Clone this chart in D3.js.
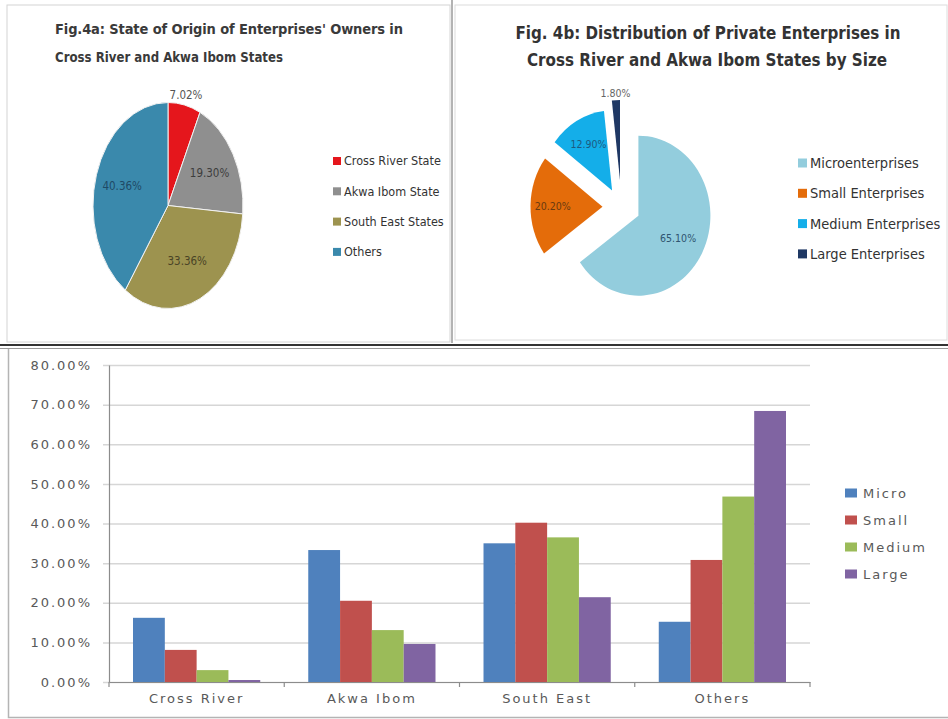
<!DOCTYPE html>
<html>
<head>
<meta charset="utf-8">
<script src="https://cdn.jsdelivr.net/npm/d3@7/dist/d3.min.js"></script>
<style>
  html, body { margin: 0; padding: 0; background: #fff; }
  svg { display: block; }
  .narrow { font-family: "Liberation Sans Narrow", "DejaVu Sans Condensed", "Roboto Condensed", sans-serif; }
  .wide { font-family: "DejaVu Sans", Verdana, sans-serif; letter-spacing: 2px; }
</style>
</head>
<body>
<svg id="chart" width="948" height="719"></svg>
<script>
// Fig. 4a: state of origin of enterprise owners (percent)
const originLabels = ["Cross River State", "Akwa Ibom State", "South East States", "Others"];
const originShares = [7.02, 19.30, 33.36, 40.36];

// Fig. 4b: private enterprises by size (percent)
const sizeLabels = ["Microenterprises", "Small Enterprises", "Medium Enterprises", "Large Enterprises"];
const sizeShares = [65.10, 20.20, 12.90, 1.80];

// Grouped bars: share of each size class by owners' origin (percent)
const regions = ["Cross River", "Akwa Ibom", "South East", "Others"];
const sizeSeries = ["Micro", "Small", "Medium", "Large"];
const microValues = [16.2, 33.3, 35.0, 15.2];
const smallValues = [8.1, 20.5, 40.2, 30.8];
const mediumValues = [3.0, 13.1, 36.5, 46.8];
const largeValues = [0.5, 9.6, 21.4, 68.4];
const yTicks = [0, 10, 20, 30, 40, 50, 60, 70, 80];

const svg = d3.select("#chart");

// ---- panel frames ----
svg.append("rect").attr("x", 7).attr("y", 5).attr("width", 443).attr("height", 337)
  .attr("fill", "none").attr("stroke", "#d4d4d4").attr("stroke-width", 1);
svg.append("rect").attr("x", 455).attr("y", 5).attr("width", 492).attr("height", 335)
  .attr("fill", "none").attr("stroke", "#dcdcdc").attr("stroke-width", 1);
svg.append("line").attr("x1", 452).attr("x2", 452).attr("y1", 0).attr("y2", 343)
  .attr("stroke", "#9a9a9a").attr("stroke-width", 1.5);
svg.append("line").attr("x1", 0).attr("x2", 948).attr("y1", 345).attr("y2", 345)
  .attr("stroke", "#333").attr("stroke-width", 2);
svg.append("line").attr("x1", 0).attr("x2", 948).attr("y1", 348.5).attr("y2", 348.5)
  .attr("stroke", "#999").attr("stroke-width", 1);
svg.append("path").attr("d", "M8.5,349 V717.5 H948")
  .attr("fill", "none").attr("stroke", "#b4b4b4").attr("stroke-width", 1.5);

// ---- helper: elliptical pie with optional explosion ----
function drawPie(opts) {
  const R = 100;
  const pie = d3.pie().sort(null).value(d => d)(opts.values);
  const arc = d3.arc().innerRadius(0).outerRadius(R);
  const g = svg.append("g");
  pie.forEach((p, i) => {
    const mid = (p.startAngle + p.endAngle) / 2;
    const d = opts.explode[i];
    const ox = opts.cx + d * Math.sin(mid);
    const oy = opts.cy - d * Math.cos(mid);
    const sg = g.append("g").attr("transform", `translate(${ox},${oy})`);
    sg.append("path")
      .attr("d", arc(p))
      .attr("transform", `scale(${opts.rx / R},${opts.ry / R})`)
      .attr("fill", opts.colors[i])
      .attr("stroke", opts.stroke || "none")
      .attr("stroke-width", 1)
      .attr("vector-effect", "non-scaling-stroke");
    const k = opts.labelK[i];
    g.append("text")
      .attr("class", "narrow")
      .attr("x", ox + opts.rx * k * Math.sin(mid))
      .attr("y", oy - opts.ry * k * Math.cos(mid))
      .attr("dy", "0.35em")
      .attr("text-anchor", "middle")
      .attr("font-size", opts.labelSize)
      .attr("fill", opts.labelColor[i])
      .text(opts.values[i].toFixed(2) + "%");
  });
}

function drawLegend(x, y0, step, labels, colors, size, sw, color) {
  const g = svg.append("g");
  labels.forEach((t, i) => {
    const y = y0 + i * step;
    g.append("rect").attr("x", x).attr("y", y - sw / 2).attr("width", sw).attr("height", sw)
      .attr("fill", colors[i]);
    g.append("text").attr("class", "narrow")
      .attr("x", x + sw + 3).attr("y", y).attr("dy", "0.35em")
      .attr("font-size", size).attr("fill", color)
      .text(t);
  });
}

// ---- Fig. 4a ----
svg.append("text").attr("class", "narrow").attr("x", 55).attr("y", 34)
  .attr("font-size", 14.5).attr("font-weight", "bold").attr("fill", "#3a3a3a")
  .attr("textLength", 348).attr("lengthAdjust", "spacing")
  .text("Fig.4a: State of Origin of Enterprises' Owners in");
svg.append("text").attr("class", "narrow").attr("x", 55).attr("y", 62)
  .attr("font-size", 14.5).attr("font-weight", "bold").attr("fill", "#3a3a3a")
  .attr("textLength", 228).attr("lengthAdjust", "spacingAndGlyphs")
  .text("Cross River and Akwa Ibom States");

const originColors = ["#e5161c", "#8f8f8f", "#9d934f", "#3a89ac"];
drawPie({
  values: originShares, cx: 168, cy: 205.5, rx: 75, ry: 103,
  explode: [0, 0, 0, 0], colors: originColors, stroke: "#f2f2f2",
  labelK: [1.1, 0.64, 0.6, 0.64], labelSize: 11.5,
  labelColor: ["#555", "#3d3d3d", "#4a4426", "#1f4a66"]
});
drawLegend(333, 161, 30.3, originLabels, originColors, 12.5, 8, "#333");

// ---- Fig. 4b ----
svg.append("text").attr("class", "narrow").attr("x", 708).attr("y", 39)
  .attr("text-anchor", "middle")
  .attr("font-size", 17.5).attr("font-weight", "bold").attr("fill", "#333")
  .attr("textLength", 385).attr("lengthAdjust", "spacingAndGlyphs")
  .text("Fig. 4b: Distribution of Private Enterprises in");
svg.append("text").attr("class", "narrow").attr("x", 707).attr("y", 66)
  .attr("text-anchor", "middle")
  .attr("font-size", 17.5).attr("font-weight", "bold").attr("fill", "#333")
  .attr("textLength", 360).attr("lengthAdjust", "spacingAndGlyphs")
  .text("Cross River and Akwa Ibom States by Size");

const sizeColors = ["#93cddd", "#e46c0a", "#14aee9", "#1f3864"];
drawPie({
  values: sizeShares, cx: 621.5, cy: 207, rx: 72, ry: 80,
  explode: [19, 19, 19, 27], colors: sizeColors,
  labelK: [0.62, 0.69, 0.66, 1.09], labelSize: 10.5,
  labelColor: ["#2f5470", "#6a3a10", "#1d5a80", "#666"]
});
drawLegend(798, 163, 30.3, sizeLabels, sizeColors, 14.5, 9, "#333");

// ---- grouped bar chart ----
const seriesValues = [microValues, smallValues, mediumValues, largeValues];
const barColors = ["#4f81bd", "#c0504d", "#9bbb59", "#8064a2"];
const plot = { left: 109, right: 810, top: 365, bottom: 682 };

const x0 = d3.scaleBand().domain(regions).range([plot.left, plot.right]);
const x1 = d3.scaleBand().domain(sizeSeries)
  .range([x0.bandwidth() * 0.137, x0.bandwidth() * 0.863]);
const y = d3.scaleLinear().domain([0, 80]).range([plot.bottom, plot.top]);

const bar = svg.append("g");

// horizontal gridlines with outward tick stubs
bar.append("g").attr("transform", `translate(${plot.left},0)`)
  .call(d3.axisLeft(y).tickValues(yTicks).tickSize(-(plot.right - plot.left)).tickFormat(""))
  .call(g => g.select(".domain").remove())
  .call(g => g.selectAll(".tick line").attr("stroke", "#d6d6d6").attr("stroke-width", 1.5)
    .attr("x1", -6));

// y labels
bar.append("g").attr("transform", `translate(${plot.left},0)`)
  .call(d3.axisLeft(y).tickValues(yTicks).tickSize(0).tickPadding(17)
    .tickFormat(d => d.toFixed(2) + "%"))
  .call(g => g.select(".domain").attr("stroke", "#8c8c8c").attr("stroke-width", 1.2))
  .call(g => g.selectAll(".tick text").attr("class", "wide")
    .attr("font-size", 13).attr("fill", "#595959"));

// bars
regions.forEach((r, ci) => {
  sizeSeries.forEach((s, si) => {
    const v = seriesValues[si][ci];
    bar.append("rect")
      .attr("x", x0(r) + x1(s))
      .attr("y", y(v))
      .attr("width", x1.bandwidth())
      .attr("height", y(0) - y(v))
      .attr("fill", barColors[si]);
  });
});

// category axis
bar.append("g").attr("transform", `translate(0,${plot.bottom})`)
  .call(d3.axisBottom(x0).tickSize(0).tickPadding(12))
  .call(g => g.select(".domain").attr("stroke", "#8c8c8c").attr("stroke-width", 1.2))
  .call(g => g.selectAll(".tick text").attr("class", "wide")
    .attr("font-size", 13).attr("fill", "#595959"));
const edges = regions.map(r => x0(r)).concat([plot.right]);
bar.selectAll(".cat-tick").data(edges).enter().append("line")
  .attr("x1", d => d).attr("x2", d => d)
  .attr("y1", plot.bottom).attr("y2", plot.bottom + 5)
  .attr("stroke", "#8c8c8c").attr("stroke-width", 1.2);

// legend
const lg = svg.append("g");
sizeSeries.forEach((s, i) => {
  const yy = 493 + i * 27;
  lg.append("rect").attr("x", 845).attr("y", yy - 4.5).attr("width", 12).attr("height", 9)
    .attr("fill", barColors[i]);
  lg.append("text").attr("class", "wide").attr("x", 863).attr("y", yy).attr("dy", "0.35em")
    .attr("font-size", 13).attr("fill", "#595959").text(s);
});
</script>
</body>
</html>
